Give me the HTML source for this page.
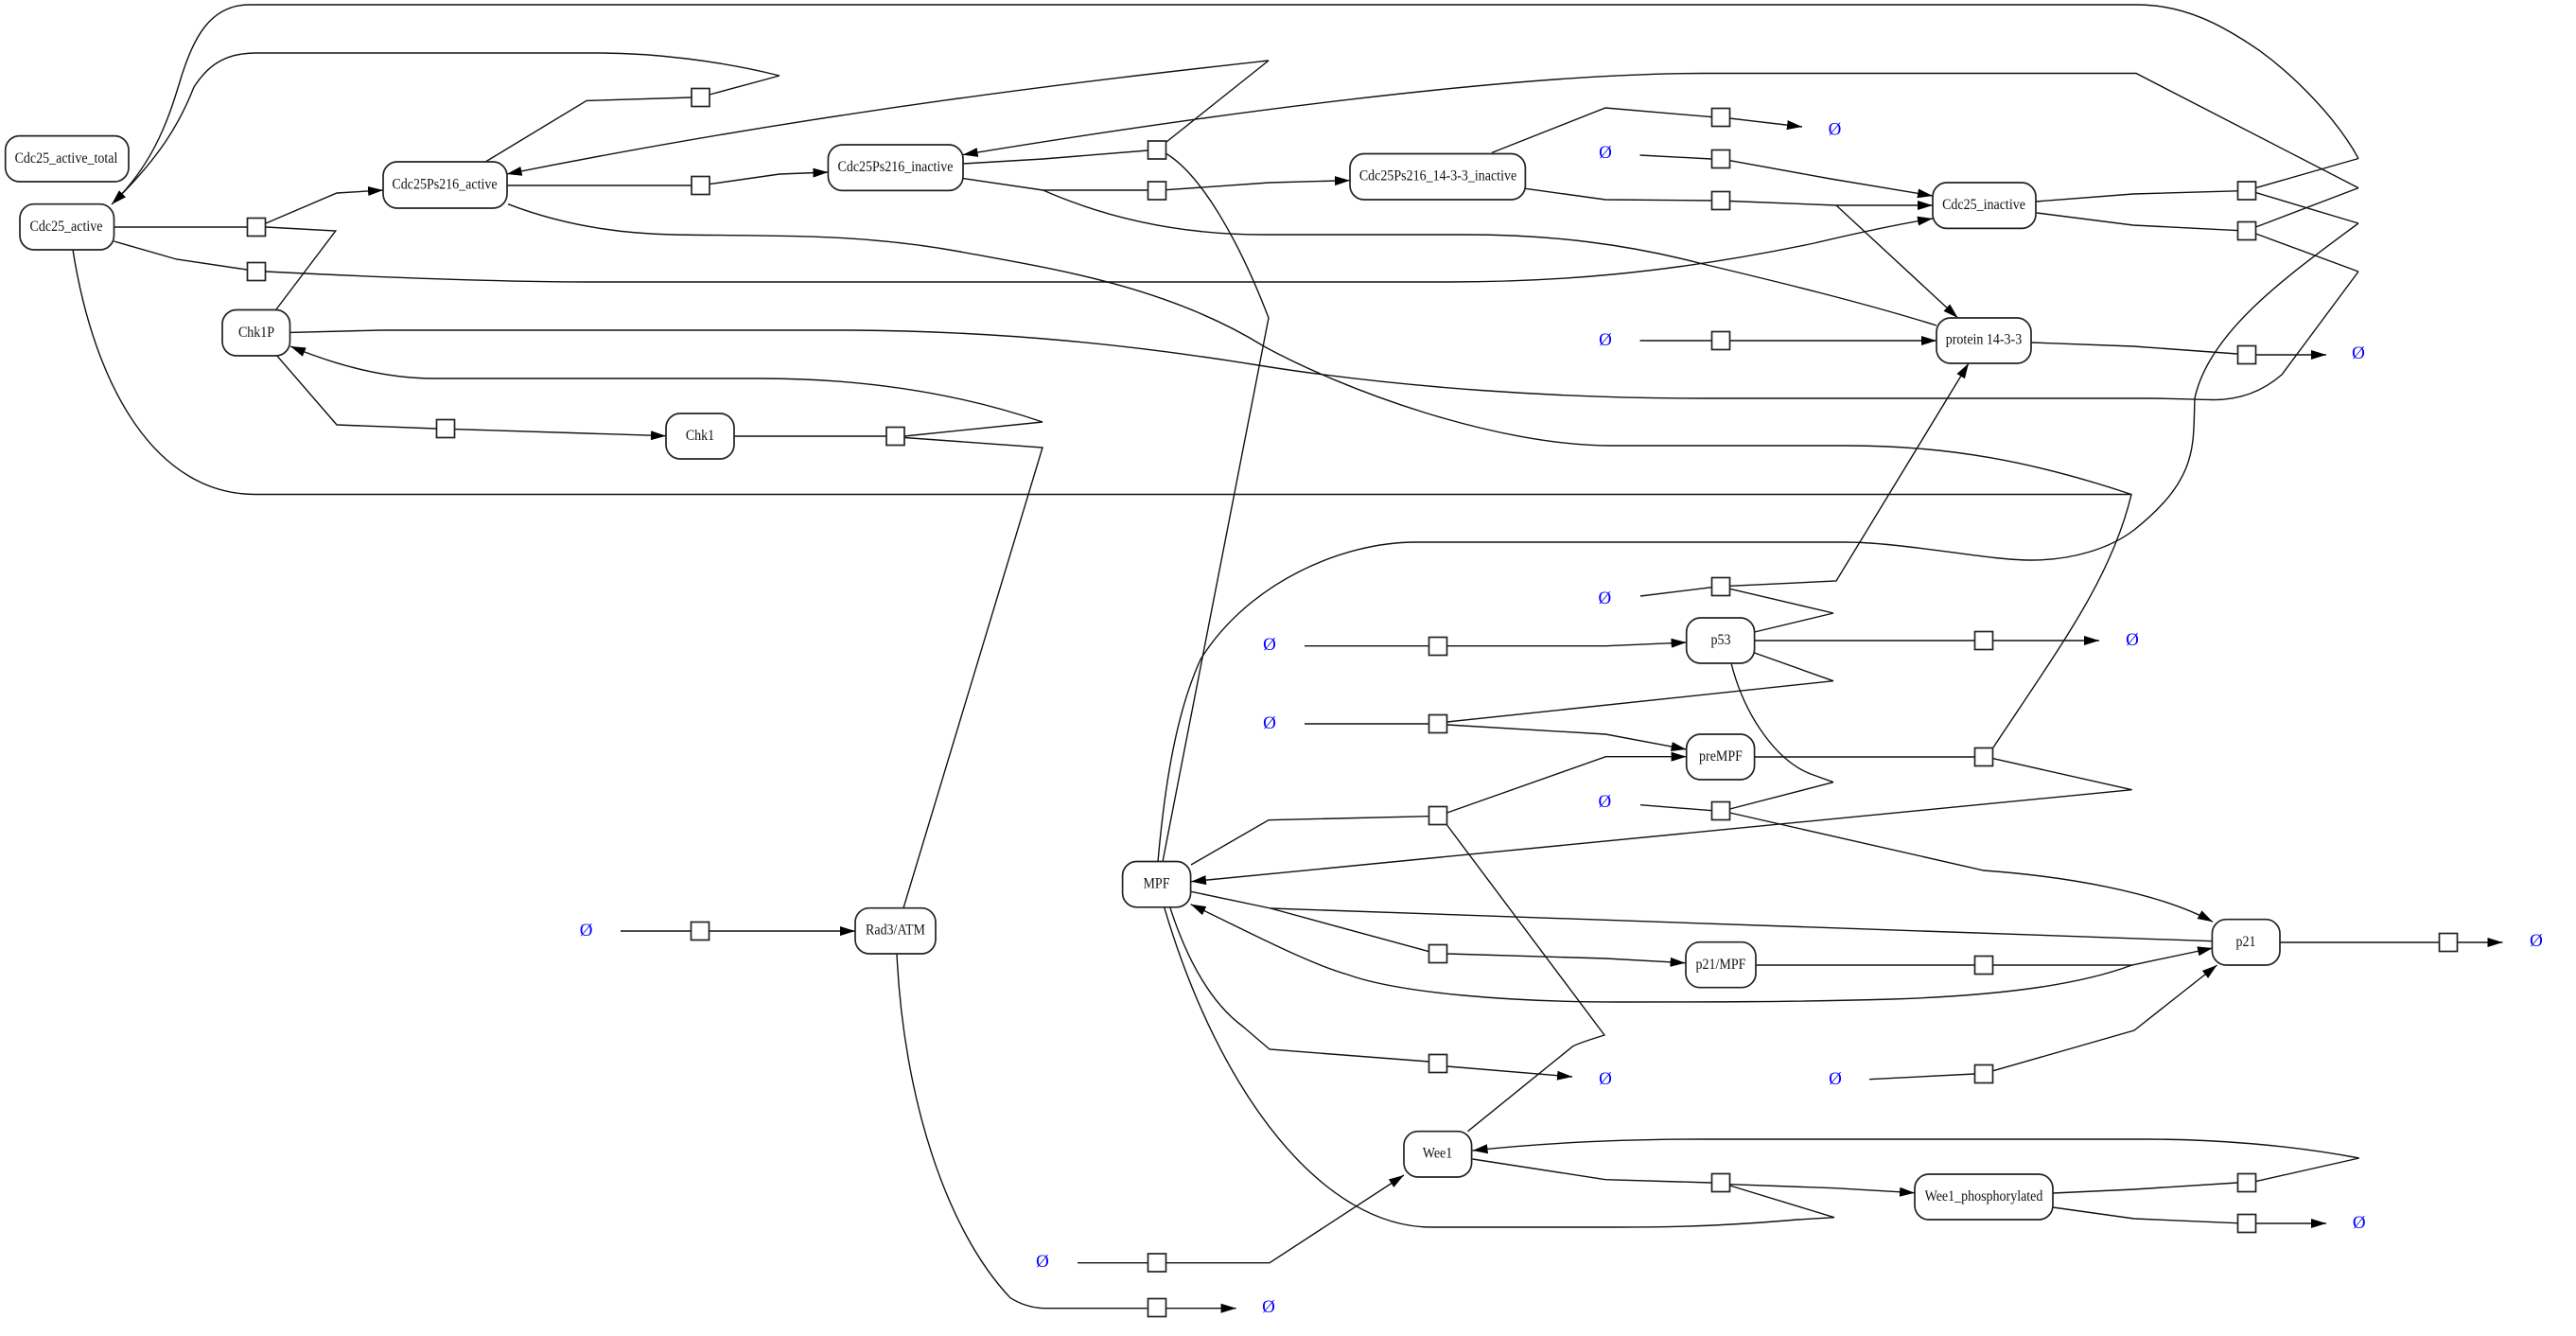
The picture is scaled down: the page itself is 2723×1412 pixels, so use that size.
<!DOCTYPE html>
<html><head><meta charset="utf-8"><style>
html,body{margin:0;padding:0;background:#fff}
svg{display:block}
.e{fill:none;stroke:#111;stroke-width:1.4}
.a{fill:none;stroke:#111;stroke-width:1.4;marker-end:url(#m)}
.n{fill:#fff;stroke:#222;stroke-width:1.7}
.s{fill:#fff;stroke:#222;stroke-width:1.7}
text{font-family:"Liberation Serif",serif;font-size:14px;text-anchor:middle;fill:#111}
text.o{font-size:19px;fill:#0000ff}
</style></head><body>
<svg width="2723" height="1412" viewBox="0 0 2723 1412" xmlns="http://www.w3.org/2000/svg">
<defs><marker id="m" markerUnits="userSpaceOnUse" markerWidth="16" markerHeight="12" viewBox="0 0 16 12" refX="16" refY="6" orient="auto"><path d="M0 1 L16 6 L0 11 Z" fill="#000"/></marker></defs>
<path class="e" d="M2493 167.5 C2470 125 2425 80 2388.6 53.6 C2350 27 2310 5 2259 5 L264 5 C222 5 205 40 192 80 C180 120 165 170 120 214"/>
<path class="a" d="M824 80 C760 64 690 56 631.5 56 L270 56 C235 56 218 72 205 92 C190 130 170 165 118 216"/>
<path class="e" d="M120.5 240 L261 240"/>
<path class="a" d="M281 236 L356 204 L405 201"/>
<path class="e" d="M291.6 327.5 L354.8 244 L281 240"/>
<path class="e" d="M120.5 255 L186.6 274 L261 285"/>
<path class="a" d="M281 287 C400 293 520 298 631 298 L1531 298 C1640 298 1760 290 1917.7 257 C1960 247 2000 238 2043 231"/>
<path class="e" d="M512.6 171.4 L620 106.4 L731 103 M750 100 L824 80"/>
<path class="e" d="M536 196 L731 196"/>
<path class="a" d="M750 194.6 L824 184 L875.4 182"/>
<path class="a" d="M1341 64 C1180 82 880 115 535.6 184"/>
<path class="e" d="M537 215.7 C600 240 660 247 712 248 C800 250 900 245 1015 266 C1100 282 1230 300 1336 366 C1420 412 1580 471 1704 471 L1953 471 C2060 471 2150 488 2253 522.5 C2232 610 2180 680 2107 790"/>
<path class="e" d="M1018 173 L1102.6 168 L1213.4 159 M1018 188.6 L1102.6 201 L1213.4 201"/>
<path class="a" d="M1232.4 200.7 L1342 193 L1427 190.7"/>
<path class="e" d="M1233 150 L1341 64"/>
<path class="e" d="M1233 162.5 C1270 185 1310 255 1341 336 L1229 910.7"/>
<path class="e" d="M1102.6 201 C1180 235 1260 248 1336 248 L1549 248 C1640 248 1720 258 1800 279 C1880 298 1970 320 2047 344"/>
<path class="e" d="M1577 161.4 L1697 114 L1809 123.6"/>
<path class="a" d="M1828 125 L1905 134"/>
<path class="e" d="M1612.4 199.3 L1697 211 L1809 212"/>
<path class="a" d="M1828 212.5 L1941 217 L2043 217"/>
<path class="a" d="M1941 217 L2069.6 336"/>
<path class="e" d="M1733.5 164 L1809 168"/>
<path class="a" d="M1828 169.6 L1935 189 L2043 207"/>
<path class="e" d="M1733.5 360 L1809 360"/>
<path class="a" d="M1828 360 L1941 360 L2047 360"/>
<path class="e" d="M2147 362 L2255 366 L2365 374"/>
<path class="a" d="M2384.5 375 L2459 375"/>
<path class="a" d="M2493 198.6 L2258 77.5 L1800 77.5 C1600 77.5 1270 122 1017.7 163.6"/>
<path class="e" d="M2152 213 L2255 205 L2365 201.8 M2384.5 198.6 L2493 167.5 M2384.5 203.6 L2493 236 M2153 225 L2255 238 L2365 243.6 M2384.5 240 L2493 198.6 M2384.5 247 L2493 287"/>
<path class="e" d="M306.5 351.4 L402 349 L900 349 C1060 350 1200 365 1330 386 C1480 410 1650 421 1800 421 L2271 421 C2290 421 2310 422 2338 422.5 C2365 423 2390 415 2412 396 L2493 287"/>
<path class="e" d="M2493 236 C2420 290 2335 350 2320 421 C2318 470 2325 505 2256 560 C2230 580 2190 592 2147 592 C2110 592 2060 582 2000 576 C1980 574 1960 573 1950 573 L1496 573 C1420 573 1320 615 1269 697 C1245 750 1232 820 1224 910.7"/>
<path class="e" d="M292.8 376 L356 449 L461 453"/>
<path class="a" d="M480.5 453.6 L620 458 L704 460.7"/>
<path class="e" d="M776 461 L936.7 461 M956 461 L1102 446 M956 462.5 L1102 473 L955 959.7"/>
<path class="a" d="M1102 446 C1020 418 920 400 804 400 L459 400 C410 400 360 388 307 366"/>
<path class="e" d="M77 264 C100 410 165 522.5 270 522.5 L2253 522.5"/>
<path class="e" d="M656 984 L730.4 984"/>
<path class="a" d="M749.6 984 L825 984 L904 984"/>
<path class="e" d="M948 1008 C955 1160 1000 1300 1068 1371.7 C1078 1378 1090 1382 1102.7 1382.7 L1213 1382.7"/>
<path class="a" d="M1232.6 1382.7 L1306.6 1382.7"/>
<path class="e" d="M1139 1334.7 L1213 1334.7"/>
<path class="a" d="M1232.6 1334.7 L1342 1334.7 L1484 1242"/>
<path class="e" d="M1259 914 L1341 866.7 L1510.7 862.7"/>
<path class="a" d="M1529.6 859 L1697.4 799.7 L1782.6 799.7"/>
<path class="e" d="M1529.6 872 L1696 1094 C1680 1099 1670 1102 1662.7 1105.7 L1551.5 1195.7"/>
<path class="e" d="M1379 682.7 L1510.7 682.7"/>
<path class="a" d="M1529.6 682.7 L1697.4 682.7 L1782.6 679"/>
<path class="e" d="M1379 765 L1510.7 765 M1529.6 763 L1938 719.7 L1854.6 690"/>
<path class="a" d="M1529.6 766 L1697.4 776 L1782.6 792"/>
<path class="e" d="M1734 630 L1809.7 620.7"/>
<path class="a" d="M1828.6 619.3 L1941 614 L2081 384"/>
<path class="e" d="M1828.6 622.3 L1938 648 L1854.6 668"/>
<path class="e" d="M1854.6 677 L2087.6 677"/>
<path class="a" d="M2107 677 L2219 677"/>
<path class="e" d="M1830 701 C1845 760 1880 805 1914 818 L1938 826.7"/>
<path class="e" d="M1734 850.7 L1809.7 856.7 M1828.6 855 L1938 826.7"/>
<path class="a" d="M1828.6 859 L2097 920 C2180 926 2280 942 2339 974.3"/>
<path class="e" d="M1854.6 800 L2087.6 800"/>
<path class="a" d="M2107 801.7 L2253.6 834.7 L1259 931.7"/>
<path class="e" d="M1259 942.3 L1343 960 L1510.7 1005.7"/>
<path class="a" d="M1529.6 1008 L1697.4 1013 L1781.6 1017.7"/>
<path class="e" d="M1343 960 L2339 994.7"/>
<path class="e" d="M1856 1020 L2087.6 1020"/>
<path class="a" d="M2107 1020 L2253.6 1020 L2339 1002"/>
<path class="a" d="M2253.6 1020 C2200 1040 2120 1052 2000 1056 C1900 1059 1800 1059 1710 1059 C1600 1059 1480 1050 1424.5 1030 C1380 1017 1320 985 1258.7 955.7"/>
<path class="e" d="M2410 996 L2578.6 996"/>
<path class="a" d="M2597.5 996 L2645.5 996"/>
<path class="e" d="M1976 1140.7 L2087.4 1135"/>
<path class="a" d="M2107 1131.7 L2256 1089 L2343.5 1020"/>
<path class="e" d="M1556.6 1225 L1697 1246.7 L1809 1250"/>
<path class="a" d="M1828.6 1251.7 L1939 1255.7 L2024 1260.7"/>
<path class="e" d="M1828.6 1253 L1939 1286.7"/>
<path class="e" d="M2170 1261 L2256 1257 L2365 1250 M2384 1248.7 L2493.7 1224 M2170 1276 L2256 1288 L2365 1292.7"/>
<path class="a" d="M2384 1293 L2459 1293"/>
<path class="a" d="M2493.7 1224 C2420 1210 2340 1204 2267.5 1204 L1804 1204 C1710 1204 1630 1208 1556.6 1216"/>
<path class="e" d="M1939 1286.7 L1900 1289 C1830 1295 1780 1297 1712 1297 L1513 1297 C1400 1297 1290 1160 1230.6 958.7"/>
<path class="e" d="M1236.7 958.7 C1255 1015 1280 1060 1314 1085 L1342 1109 L1510.7 1122"/>
<path class="a" d="M1529.6 1127 L1662 1138"/>

<g class="n">
<rect x="5.7" y="143.6" width="130.3" height="48.4" rx="15"/>
<rect x="21" y="215.7" width="99.5" height="48.3" rx="15"/>
<rect x="405" y="171" width="131" height="49" rx="15"/>
<rect x="235" y="327.5" width="71.5" height="48.5" rx="15"/>
<rect x="704" y="437" width="72" height="48" rx="15"/>
<rect x="875.4" y="153" width="142.6" height="48.4" rx="15"/>
<rect x="1427" y="162.5" width="185.4" height="48.5" rx="15"/>
<rect x="2043" y="193" width="109" height="48.4" rx="15"/>
<rect x="2047" y="336" width="100" height="48" rx="15"/>
<rect x="1782.7" y="653" width="71.9" height="48" rx="15"/>
<rect x="1782.7" y="776" width="71.9" height="48" rx="15"/>
<rect x="1782" y="995.7" width="74" height="48" rx="15"/>
<rect x="1186.6" y="910.5" width="72" height="48.3" rx="15"/>
<rect x="2338.4" y="971.7" width="71.6" height="48.3" rx="15"/>
<rect x="1484" y="1195.7" width="71.6" height="48.3" rx="15"/>
<rect x="2024" y="1241" width="146" height="48" rx="15"/>
<rect x="904" y="959.7" width="85" height="48.3" rx="15"/>
</g>
<g class="s">
<rect x="261.5" y="230.5" width="19" height="19"/>
<rect x="261.5" y="277.5" width="19" height="19"/>
<rect x="731" y="93.5" width="19" height="19"/>
<rect x="731" y="186.5" width="19" height="19"/>
<rect x="461.5" y="443.5" width="19" height="19"/>
<rect x="1213.5" y="149" width="19" height="19"/>
<rect x="1213.5" y="192" width="19" height="19"/>
<rect x="937" y="451.5" width="19" height="19"/>
<rect x="1809.5" y="114.5" width="19" height="19"/>
<rect x="1809.5" y="158.5" width="19" height="19"/>
<rect x="1809.5" y="202.5" width="19" height="19"/>
<rect x="1809.5" y="350.5" width="19" height="19"/>
<rect x="2365.5" y="192" width="19" height="19"/>
<rect x="2365.5" y="234.5" width="19" height="19"/>
<rect x="2365.5" y="365.5" width="19" height="19"/>
<rect x="1809.5" y="610.5" width="19" height="19"/>
<rect x="1510.5" y="673.5" width="19" height="19"/>
<rect x="1510.5" y="755.5" width="19" height="19"/>
<rect x="1510.5" y="852.5" width="19" height="19"/>
<rect x="1809.5" y="847.5" width="19" height="19"/>
<rect x="1510.5" y="998.5" width="19" height="19"/>
<rect x="2087.5" y="667.5" width="19" height="19"/>
<rect x="2087.5" y="790.5" width="19" height="19"/>
<rect x="2087.5" y="1010.5" width="19" height="19"/>
<rect x="2578.5" y="986.5" width="19" height="19"/>
<rect x="2087.5" y="1125.5" width="19" height="19"/>
<rect x="2365.5" y="1240.5" width="19" height="19"/>
<rect x="2365.5" y="1283.5" width="19" height="19"/>
<rect x="1510.5" y="1114.5" width="19" height="19"/>
<rect x="1809.5" y="1240.5" width="19" height="19"/>
<rect x="1213.5" y="1325" width="19" height="19"/>
<rect x="1213.5" y="1372.5" width="19" height="19"/>
<rect x="730.5" y="974.5" width="19" height="19"/>
</g>

<text transform="translate(70 172) scale(1 1.15)">Cdc25_active_total</text>
<text transform="translate(70 244) scale(1 1.15)">Cdc25_active</text>
<text transform="translate(470 199.5) scale(1 1.15)">Cdc25Ps216_active</text>
<text transform="translate(271 356) scale(1 1.15)">Chk1P</text>
<text transform="translate(740 465) scale(1 1.15)">Chk1</text>
<text transform="translate(946.5 181) scale(1 1.15)">Cdc25Ps216_inactive</text>
<text transform="translate(1520 190.5) scale(1 1.15)">Cdc25Ps216_14-3-3_inactive</text>
<text transform="translate(2097 221) scale(1 1.15)">Cdc25_inactive</text>
<text transform="translate(2097 363.5) scale(1 1.15)">protein 14-3-3</text>
<text transform="translate(1819 681) scale(1 1.15)">p53</text>
<text transform="translate(1819 804) scale(1 1.15)">preMPF</text>
<text transform="translate(1819 1024) scale(1 1.15)">p21/MPF</text>
<text transform="translate(1222.5 938.5) scale(1 1.15)">MPF</text>
<text transform="translate(2374 1000) scale(1 1.15)">p21</text>
<text transform="translate(1519.5 1223.5) scale(1 1.15)">Wee1</text>
<text transform="translate(2097 1269) scale(1 1.15)">Wee1_phosphorylated</text>
<text transform="translate(946.5 987.5) scale(1 1.15)">Rad3/ATM</text>

<text class="o" x="1697" y="167">Ø</text>
<text class="o" x="1697" y="365">Ø</text>
<text class="o" x="1939.5" y="142.5">Ø</text>
<text class="o" x="2493" y="379">Ø</text>
<text class="o" x="1696.4" y="638">Ø</text>
<text class="o" x="1342" y="687">Ø</text>
<text class="o" x="1342" y="770">Ø</text>
<text class="o" x="1696.4" y="853">Ø</text>
<text class="o" x="2254" y="682">Ø</text>
<text class="o" x="2681" y="1000">Ø</text>
<text class="o" x="1697" y="1146">Ø</text>
<text class="o" x="1940" y="1146">Ø</text>
<text class="o" x="2493.7" y="1298">Ø</text>
<text class="o" x="619.6" y="989">Ø</text>
<text class="o" x="1102" y="1339">Ø</text>
<text class="o" x="1341" y="1387">Ø</text>
</svg>
</body></html>
